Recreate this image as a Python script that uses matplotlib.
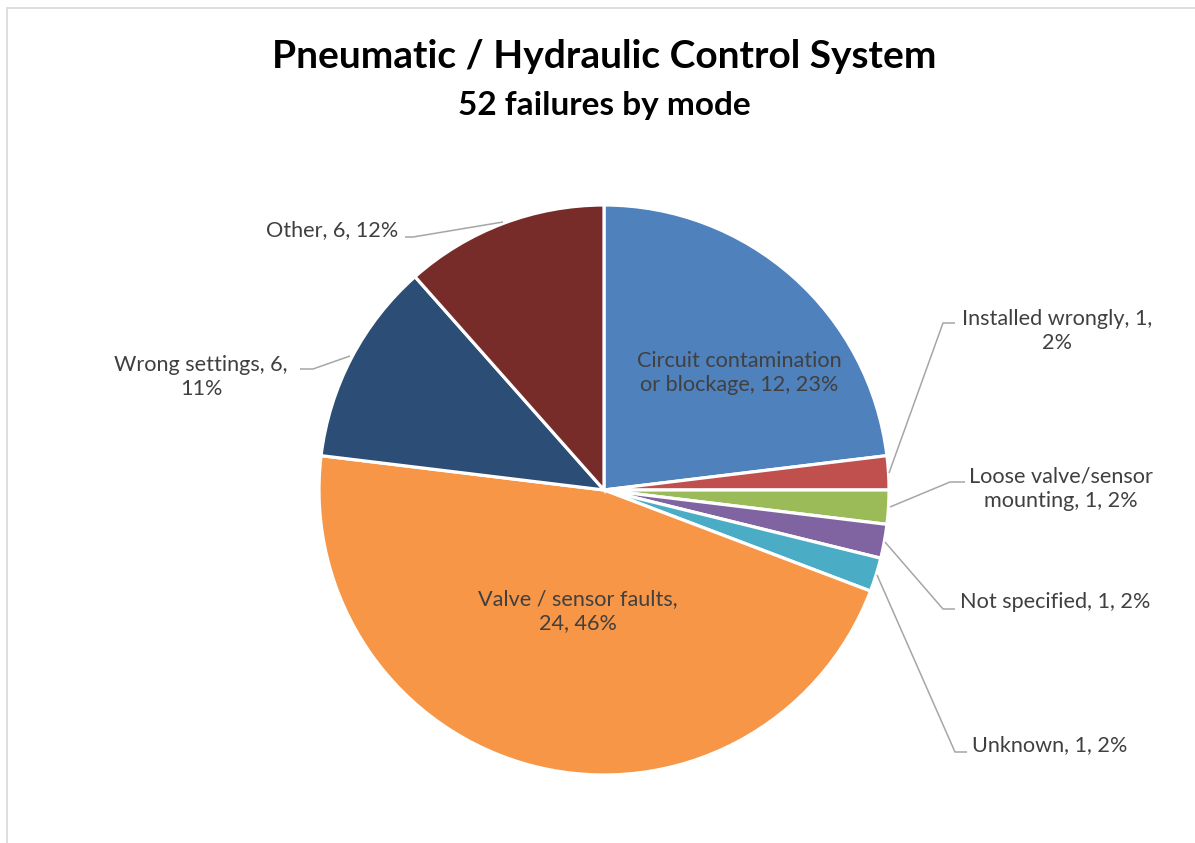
import matplotlib.pyplot as plt
from matplotlib.patches import Rectangle

# data (clockwise from 12 o'clock)
modes = ['Circuit contamination or blockage', 'Installed wrongly', 'Loose valve/sensor mounting',
         'Not specified', 'Unknown', 'Valve / sensor faults', 'Wrong settings', 'Other']
counts = [12, 1, 1, 1, 1, 24, 6, 6]
pct_shown = [23, 2, 2, 2, 2, 46, 11, 12]
colors = ['#4F81BD', '#C0504D', '#9BBB59', '#8064A2', '#4BACC6', '#F79646', '#2C4D75', '#772C2A']

# label text as Excel wrapped it
label_text = [
    'Circuit contamination\nor blockage, {c}, {p}%',
    'Installed wrongly, {c},\n{p}%',
    'Loose valve/sensor\nmounting, {c}, {p}%',
    'Not specified, {c}, {p}%',
    'Unknown, {c}, {p}%',
    'Valve / sensor faults,\n{c}, {p}%',
    'Wrong settings, {c},\n{p}%',
    'Other, {c}, {p}%',
]

W, H = 1195, 843
fig = plt.figure(figsize=(W / 100, H / 100), dpi=100)
ax = fig.add_axes([0, 0, 1, 1])


def Y(y):
    # pixel row (top-down) to axis y
    return H - y


wedges, _ = ax.pie(counts, colors=colors, startangle=90, counterclock=False,
                   center=(604, Y(490)), radius=285, frame=True,
                   wedgeprops=dict(edgecolor='white', linewidth=2.3))
ax.set_xlim(0, W)
ax.set_ylim(0, H)
ax.axis('off')

txt_color = '#404040'
font = 'Lato'
fs = 15.6

# label placement: (text x, text y, ha, leader points)
place = [
    (739, 373, 'center', None),
    (1057, 331, 'center', [(889, 473), (943, 323), (955, 323)]),
    (1061, 489, 'center', [(890, 507), (950, 482), (965, 482)]),
    (960, 602, 'left', [(885, 542), (943, 609), (955, 609)]),
    (972, 745, 'left', [(877, 575), (955, 752), (967, 752)]),
    (578, 611, 'center', None),
    (201, 377, 'center', [(350, 356), (313, 369), (300, 369)]),
    (398, 230, 'right', [(503, 222), (413, 237), (405, 237)]),
]

for i, (tx, ty, ha, pts) in enumerate(place):
    s = label_text[i].format(c=counts[i], p=pct_shown[i])
    ax.text(tx, Y(ty), s, ha=ha, va='center', fontsize=fs, color=txt_color,
            family=font, linespacing=1.3, multialignment='center')
    if pts:
        ax.plot([p[0] for p in pts], [Y(p[1]) for p in pts], color='#A6A6A6', lw=1.1,
                solid_capstyle='butt')

fig.text(604 / W, 1 - 57 / H, 'Pneumatic / Hydraulic Control System', ha='center', va='center',
         fontsize=28, fontweight='bold', family=font, color='black')
fig.text(604 / W, 1 - 106 / H, '52 failures by mode', ha='center', va='center',
         fontsize=24, fontweight='bold', family=font, color='black')

# chart area border (only top/left visible in the crop)
fig.patches.append(Rectangle((7 / W, -0.1), 1.2, 1 - 8 / H + 0.1, transform=fig.transFigure,
                             fill=False, edgecolor='#D9D9D9', lw=1.2))

fig.savefig('out.png', dpi=100, facecolor='white')
